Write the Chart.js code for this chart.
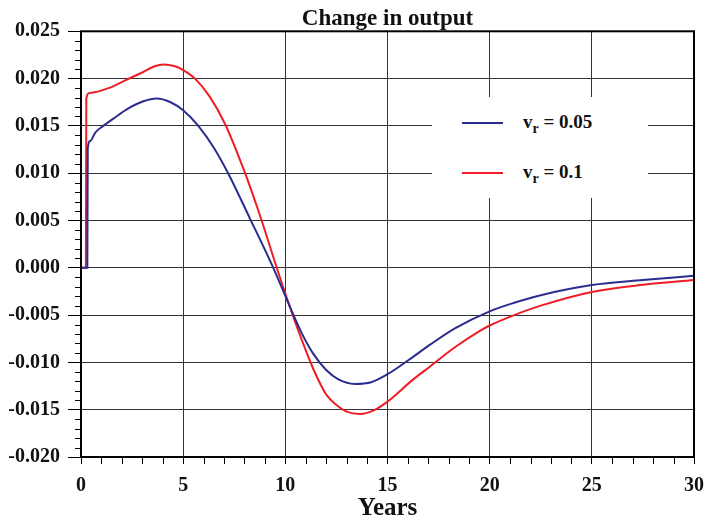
<!DOCTYPE html>
<html>
<head>
<meta charset="utf-8">
<script src="https://cdn.jsdelivr.net/npm/chart.js@4.4.1/dist/chart.umd.min.js"></script>
<style>
  html, body { margin: 0; padding: 0; background: #fff; }
  #wrap { position: relative; width: 708px; height: 521px; }
  #legendBox { position: absolute; left: 432px; top: 97px; width: 216px; height: 101px; background: #fff;
    font: bold 19px "Liberation Serif", serif; color: #111; }
  .swatch { position: absolute; left: 30px; width: 41px; height: 2px; }
  .label { position: absolute; left: 91px; line-height: 19px; white-space: nowrap; }
  .label sub { font-size: 14px; vertical-align: -5px; line-height: 0; }
</style>
</head>
<body>
<div id="wrap">
  <canvas id="myChart" width="708" height="521"></canvas>
  <div id="legendBox">
    <div class="swatch" style="top:25px;background:#2b2d8e"></div>
    <div class="label" style="top:15px">v<sub>r</sub> = 0.05</div>
    <div class="swatch" style="top:75px;background:#ee1d26"></div>
    <div class="label" style="top:65px">v<sub>r</sub> = 0.1</div>
  </div>
</div>
<script>
//Values
const blueYears  = [0, 0.31, 0.33, 0.45, 0.7, 1.09, 1.6, 2.24, 3.05, 3.7, 4.36, 5, 5.74, 6.5, 7.2, 8.27, 9.41, 10.2, 10.8, 11.37, 12, 12.6, 13.4, 14.2, 15, 16, 17.1, 18.3, 20, 21.2, 22.5, 25, 27.5, 30];
const blueValues = [0, 0, 0.0126, 0.0134, 0.0143, 0.0150, 0.0158, 0.01675, 0.0176, 0.0179, 0.01753, 0.01665, 0.0150, 0.0127, 0.0100, 0.0052, 0.0, -0.0040, -0.0069, -0.0091, -0.0108, -0.0118, -0.01228, -0.0121, -0.01125, -0.0098, -0.0081, -0.0064, -0.0046, -0.0037, -0.0029, -0.00183, -0.0013, -0.00084];

const redYears  = [0, 0.24, 0.26, 0.41, 1.42, 2.24, 3.05, 3.6, 4.03, 4.6, 5, 5.58, 6.3, 7.05, 8.03, 8.84, 9.58, 10.2, 10.8, 11.37, 12, 12.5, 13, 13.66, 14.3, 15, 16.2, 17.1, 18.3, 19.5, 20, 21.2, 22.5, 25, 27.5, 30];
const redValues = [0, 0, 0.0179, 0.01848, 0.01905, 0.0199, 0.0207, 0.0213, 0.0215, 0.0213, 0.0209, 0.0200, 0.0181, 0.0152, 0.0100, 0.0050, 0.0, -0.0040, -0.0076, -0.0107, -0.0134, -0.0145, -0.0152, -0.01545, -0.0151, -0.01415, -0.0119, -0.0104, -0.0084, -0.0067, -0.0061, -0.0050, -0.0040, -0.00255, -0.0018, -0.0013];

const seriesNames = ["v_r = 0.05", "v_r = 0.1"];
const yTickLabels = ["-0.020", "-0.015", "-0.010", "-0.005", "0.000", "0.005", "0.010", "0.015", "0.020", "0.025"];

const serif = "'Liberation Serif', 'Times New Roman', serif";

function toPoints(xs, ys) {
  return xs.map((x, i) => ({ x: x, y: ys[i] }));
}

//border box and minor ticks, placed with the chart's own scales
const framePlugin = {
  id: 'frame',
  afterDraw(chart) {
    const c = chart.ctx;
    const a = chart.chartArea;
    const xs = chart.scales.x;
    const ys = chart.scales.y;
    c.save();
    c.strokeStyle = '#000';
    c.lineWidth = 1;
    c.beginPath();
    for (let v = -20; v <= 25; v++) {
      if (v % 5 === 0) continue;
      const py = Math.round(ys.getPixelForValue(v / 1000)) + 0.5;
      c.moveTo(a.left - 6, py);
      c.lineTo(a.left, py);
    }
    for (let t = 0; t <= 30; t++) {
      if (t % 5 === 0) continue;
      const px = Math.round(xs.getPixelForValue(t)) + 0.5;
      c.moveTo(px, a.bottom);
      c.lineTo(px, a.bottom + 7);
    }
    c.stroke();
    c.lineWidth = 2;
    c.strokeRect(a.left, a.top, a.right - a.left, a.bottom - a.top);
    c.restore();
  }
};

const ctx = document.getElementById("myChart").getContext("2d");
var outputChart = new Chart(ctx, {
  type: 'line',
  data: {
    datasets: [{
      label: seriesNames[0],
      data: toPoints(blueYears, blueValues),
      borderColor: '#2b2d8e',
      borderWidth: 2,
      pointRadius: 0,
      cubicInterpolationMode: 'monotone'
    }, {
      label: seriesNames[1],
      data: toPoints(redYears, redValues),
      borderColor: '#ee1d26',
      borderWidth: 2,
      pointRadius: 0,
      cubicInterpolationMode: 'monotone'
    }]
  },
  options: {
    responsive: false,
    animation: false,
    layout: { padding: { left: 0, right: 14, top: 0, bottom: 0 } },
    plugins: {
      legend: { display: false },
      tooltip: { enabled: false },
      title: {
        display: true,
        text: 'Change in output',
        fullSize: false,
        color: '#111',
        font: { family: serif, size: 23, weight: 'bold', lineHeight: 1.1 },
        padding: { top: 6, bottom: 0 }
      }
    },
    scales: {
      x: {
        type: 'linear',
        min: 0,
        max: 30,
        ticks: {
          stepSize: 5,
          color: '#111',
          padding: 10,
          maxRotation: 0,
          font: { family: serif, size: 20, weight: 'bold' }
        },
        grid: { color: '#333', lineWidth: 1, tickLength: 7, tickColor: '#000' },
        border: { display: false },
        title: {
          display: true,
          text: 'Years',
          color: '#111',
          font: { family: serif, size: 25, weight: 'bold', lineHeight: 1.0 },
          padding: { top: 0, bottom: 0 }
        },
        afterFit(scale) {
          scale.height = 64;
          scale.paddingLeft = 0;
          scale.paddingRight = 0;
        }
      },
      y: {
        min: -0.02,
        max: 0.025,
        ticks: {
          stepSize: 0.005,
          color: '#111',
          padding: 8,
          font: { family: serif, size: 20, weight: 'bold' },
          callback: function (value) {
            const i = Math.round((value + 0.02) / 0.005);
            return yTickLabels[i];
          }
        },
        grid: { color: '#333', lineWidth: 1, tickLength: 13, tickColor: '#000' },
        border: { display: false },
        afterFit(scale) { scale.width = 81; }
      }
    }
  },
  plugins: [framePlugin]
});
</script>
</body>
</html>
